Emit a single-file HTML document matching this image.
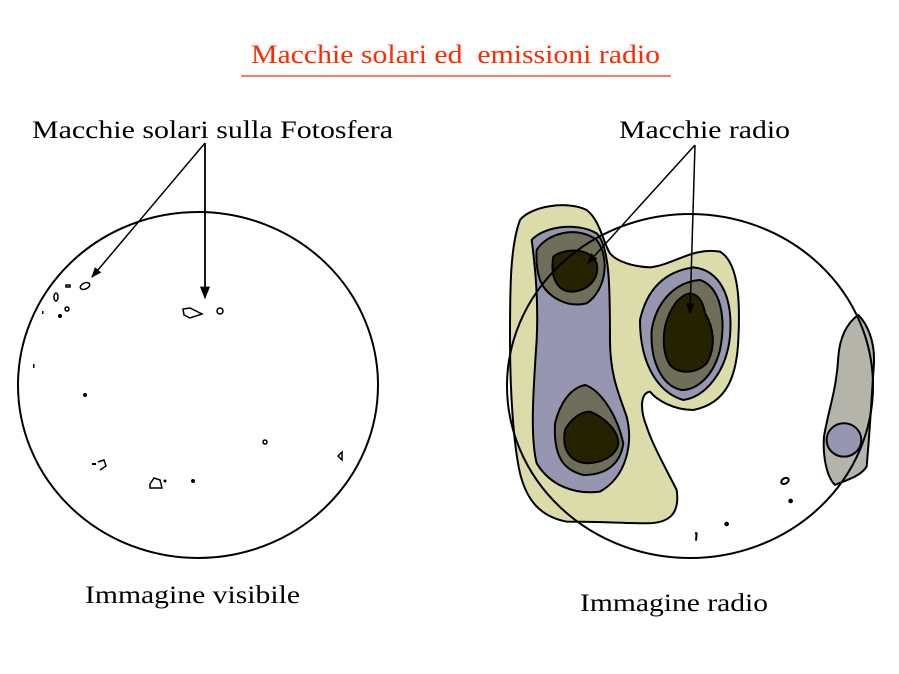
<!DOCTYPE html>
<html><head><meta charset="utf-8"><style>html,body{margin:0;padding:0;background:#fff;}svg{display:block;}</style></head>
<body>
<svg width="899" height="674" viewBox="0 0 899 674" xmlns="http://www.w3.org/2000/svg" font-family="Liberation Serif, serif">
<defs><marker id="ah" viewBox="0 0 10 10" refX="9" refY="5" markerWidth="7" markerHeight="7" orient="auto"><path d="M0,1 L10,5 L0,9 z" fill="#000"/></marker></defs>
<text x="251" y="63" font-size="26" fill="#ff2a00" textLength="409" lengthAdjust="spacingAndGlyphs" xml:space="preserve">Macchie solari ed  emissioni radio</text>
<line x1="241" y1="76" x2="671" y2="76" stroke="#ff2a00" stroke-width="1.3"/>
<text x="32" y="138" font-size="25" textLength="361" lengthAdjust="spacingAndGlyphs">Macchie solari sulla Fotosfera</text>
<text x="619" y="138" font-size="25" textLength="171" lengthAdjust="spacingAndGlyphs">Macchie radio</text>
<text x="85" y="603" font-size="25" textLength="215" lengthAdjust="spacingAndGlyphs">Immagine visibile</text>
<text x="580" y="611" font-size="25" textLength="188" lengthAdjust="spacingAndGlyphs">Immagine radio</text>

<!-- left sun -->
<ellipse cx="198" cy="385" rx="180" ry="173" fill="none" stroke="#000" stroke-width="2"/>
<g fill="none" stroke="#000" stroke-width="1.5">
<ellipse cx="85" cy="286" rx="5" ry="3" transform="rotate(-25 85 286)"/>
<ellipse cx="56" cy="297" rx="2" ry="4"/>
<rect x="66" y="285" width="4" height="2"/>
<circle cx="67" cy="309" r="2"/>
<path d="M183,309 L190,308 L202,314 L190,318 L184,315 z"/>
<ellipse cx="220" cy="311" rx="3" ry="3"/>
<circle cx="265" cy="442" r="2"/>
<path d="M338,456 L342,452 L342,460 z"/>
<path d="M98,462 L104,460 L106,466 L100,470"/>
<path d="M150,484 L154,478 L160,480 L162,488 L150,488 z"/>
</g>
<g fill="#000"><circle cx="60" cy="316" r="2"/><circle cx="85" cy="395" r="2"/><circle cx="193" cy="481" r="2"/><circle cx="165" cy="481" r="1.5"/><rect x="33" y="364" width="1.5" height="4"/><rect x="42" y="311" width="1.5" height="3"/><rect x="92" y="463" width="4" height="2"/></g>
<line x1="205" y1="143" x2="92" y2="277" stroke="#000" stroke-width="1.5" marker-end="url(#ah)"/>
<line x1="205" y1="143" x2="205" y2="298" stroke="#000" stroke-width="1.8" marker-end="url(#ah)"/>

<!-- right sun -->
<g transform="translate(500,190) scale(0.3333)" stroke="#000" stroke-width="6" stroke-linejoin="round">
<path fill="#dcdcaa" d="M60,90 C90,50 200,30 260,60 C300,90 310,160 330,190 C350,215 400,230 450,232 C520,225 580,170 660,185 C720,220 720,350 715,450 C710,560 680,640 580,660 C520,660 470,630 450,605 C420,610 420,660 440,710 C460,770 500,840 530,900 C540,970 510,1000 440,1000 C380,1000 300,995 200,995 C120,980 80,930 60,850 C40,760 30,600 30,450 C30,300 30,170 60,90 z"/>
<path fill="#9696b0" d="M95,150 C130,110 230,95 290,130 C330,170 330,300 330,450 C330,560 360,620 380,680 C400,760 380,860 300,905 C220,915 150,885 110,820 C90,740 100,600 110,450 C115,350 110,260 95,150 z"/>
<path fill="#6e6e5a" d="M110,180 C140,130 230,105 290,150 C330,200 320,300 260,340 C200,355 140,320 120,270 C110,240 108,210 110,180 z"/>
<path fill="#242200" d="M160,200 C190,175 270,170 290,220 C300,270 260,305 210,305 C170,300 150,260 160,200 z"/>
<path fill="#6e6e5a" d="M165,700 C180,640 210,595 255,585 C300,600 350,670 370,760 C360,830 310,855 250,855 C190,840 160,800 165,700 z"/>
<path fill="#242200" d="M195,720 C210,690 240,665 270,665 C310,680 355,720 355,760 C350,800 300,820 260,820 C210,815 185,780 195,720 z"/>
<path fill="#9696b0" d="M420,390 C440,300 490,245 580,232 C660,240 700,320 690,440 C680,540 620,620 550,630 C480,610 420,530 420,390 z"/>
<path fill="#6e6e5a" d="M455,420 C470,330 530,275 600,270 C660,290 680,380 660,480 C640,560 590,600 545,600 C490,590 450,520 455,420 z"/>
<path fill="#242200" d="M495,410 C510,350 540,315 570,310 C600,315 610,340 615,370 C640,410 650,470 620,520 C590,550 540,555 510,525 C490,495 488,450 495,410 z"/>
<path fill="#b4b4aa" d="M1075,375 C1100,400 1125,450 1122,520 C1115,620 1110,720 1100,830 C1080,860 1040,870 1005,885 C980,860 968,800 972,740 C985,660 1010,600 1015,500 C1020,440 1040,400 1075,375 z"/>
<ellipse fill="#9696b0" cx="1032" cy="750" rx="52" ry="50"/>
<ellipse fill="none" cx="855" cy="873" rx="12" ry="8" transform="rotate(-30 855 873)"/>
<circle fill="#000" cx="872" cy="933" r="4"/>
<circle fill="#000" cx="680" cy="1002" r="4"/>
<path fill="none" d="M585,1030 L590,1030 L588,1052"/>
</g>
<ellipse cx="690" cy="386" rx="183" ry="172" fill="none" stroke="#000" stroke-width="2"/>
<line x1="695" y1="145" x2="588" y2="263" stroke="#000" stroke-width="1.5" marker-end="url(#ah)"/>
<line x1="695" y1="145" x2="690" y2="313" stroke="#000" stroke-width="1.5" marker-end="url(#ah)"/>
</svg>
</body></html>
